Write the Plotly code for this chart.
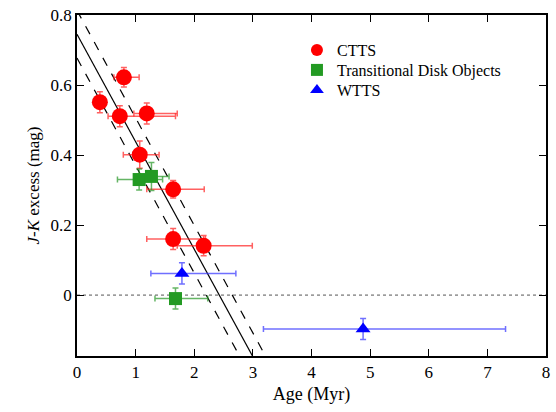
import plotly.graph_objects as go

# CTTS
ctts_age = [0.39, 0.80, 0.73, 1.19, 1.07, 1.64, 1.64, 2.16]
ctts_jk = [0.551, 0.622, 0.511, 0.519, 0.401, 0.302, 0.160, 0.141]
ctts_age_lo = [0.0, 0.17, 0.20, 0.22, 0.28, 0.45, 0.45, 0.45]
ctts_age_hi = [0.0, 0.26, 0.95, 0.52, 0.33, 0.53, 0.55, 0.83]
ctts_jk_err = [0.03, 0.028, 0.03, 0.03, 0.039, 0.025, 0.03, 0.029]

# Transitional disk objects
td_age = [1.06, 1.27, 1.68]
td_jk = [0.330, 0.339, -0.010]
td_age_lo = [0.37, 0.25, 0.35]
td_age_hi = [0.40, 0.30, 0.55]
td_jk_err = [0.03, 0.04, 0.03]

# WTTS
wtts_age = [1.79, 4.88]
wtts_jk = [0.062, -0.097]
wtts_age_lo = [0.53, 1.70]
wtts_age_hi = [0.92, 2.43]
wtts_jk_err = [0.03, 0.03]

# linear fit and its uncertainty band
fit_intercept = 0.745
fit_slope = -0.307
fit_band = 0.068
fit_age = [0.0, 3.6]

FONT = "Liberation Serif, Times New Roman, serif"

fig = go.Figure()

def fitline(off, dash):
    ys = [fit_intercept + off + fit_slope * a for a in fit_age]
    fig.add_trace(go.Scatter(x=fit_age, y=ys, mode="lines", showlegend=False,
                             line=dict(color="black", width=1.2, dash=dash),
                             hoverinfo="skip"))

fitline(0.0, "solid")
fitline(fit_band, "dash")
fitline(-fit_band, "dash")

fig.add_trace(go.Scatter(x=[0, 8], y=[0, 0], mode="lines", showlegend=False,
                         line=dict(color="#555555", width=1, dash="dot"),
                         hoverinfo="skip"))

def series(name, x, y, lo, hi, ye, color, ecolor, symbol, size, legend):
    fig.add_trace(go.Scatter(
        x=x, y=y, mode="markers", name=name, legend=legend,
        marker=dict(color=color, symbol=symbol, size=size, line=dict(width=0)),
        error_x=dict(type="data", symmetric=False, array=hi, arrayminus=lo,
                     color=ecolor, thickness=1.5, width=3),
        error_y=dict(type="data", array=ye, color=ecolor, thickness=1.5, width=3),
    ))

series("CTTS", ctts_age, ctts_jk, ctts_age_lo, ctts_age_hi, ctts_jk_err,
       "#ff0000", "rgba(255,30,30,0.7)", "circle", 16, "legend")
series("Transitional Disk Objects", td_age, td_jk, td_age_lo, td_age_hi, td_jk_err,
       "#239a23", "rgba(35,150,35,0.7)", "square", 13, "legend2")
series("WTTS", wtts_age, wtts_jk, wtts_age_lo, wtts_age_hi, wtts_jk_err,
       "#0000ff", "rgba(50,50,255,0.7)", "triangle-up", 13, "legend3")

axis_common = dict(showline=True, linecolor="black", linewidth=1.5, mirror="ticks",
                   ticks="inside", ticklen=7, tickcolor="black", tickwidth=1,
                   showgrid=False, zeroline=False, automargin=False,
                   tickfont=dict(family=FONT, size=17, color="black"))

fig.update_xaxes(range=[0, 8], dtick=1, title=dict(text="Age (Myr)", standoff=6,
                 font=dict(family=FONT, size=18, color="black")), **axis_common)
fig.update_yaxes(range=[-0.174, 0.8], tickvals=[0, 0.2, 0.4, 0.6, 0.8],
                 ticktext=["0", "0.2", "0.4", "0.6", "0.8"],
                 title=dict(text="<i>J</i>-<i>K</i> excess (mag)", standoff=7,
                            font=dict(family=FONT, size=17, color="black")),
                 **axis_common)

def leg(y):
    return dict(x=0.469, y=y, xanchor="left", yanchor="middle",
                bgcolor="rgba(0,0,0,0)", font=dict(family=FONT, size=16),
                itemsizing="constant")

fig.update_layout(
    width=556, height=412,
    margin=dict(l=77, r=10, t=15, b=56),
    paper_bgcolor="white", plot_bgcolor="white",
    font=dict(family=FONT, size=17, color="black"),
    legend=leg(0.8974), legend2=leg(0.8387), legend3=leg(0.7801),
)

# remove the default 8px page margin so the figure fills the window exactly
fig.write_html("out.html", config={"displayModeBar": False},
               post_script="document.body.style.margin='0';")
